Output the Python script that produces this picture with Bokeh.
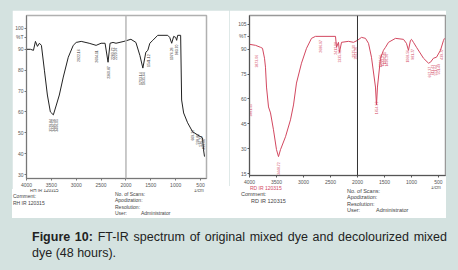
import numpy as np
from bokeh.plotting import figure
from bokeh.models import Range1d, FixedTicker, Span, Div
from bokeh.layouts import column, row
from bokeh.embed import file_html
from bokeh.resources import INLINE
from bokeh.core.properties import value

# ---------------- data ----------------
wn_ticks = [4000, 3500, 3000, 2500, 2000, 1500, 1000, 500]
left_y_ticks = [100, 90, 80, 70, 60, 50, 40, 30]
right_y_ticks = [105, 90, 75, 60, 45, 30, 15]
left_pct_tick = 95.7
right_pct_tick = 97.8

# original mixed dye (black)
orig_wn = [4000, 3920, 3860, 3820, 3780, 3740, 3700, 3640, 3580, 3520, 3460, 3400,
           3340, 3260, 3160, 3060, 3000, 2900, 2740, 2600, 2500, 2420, 2360, 2320,
           2260, 2200, 2040, 1900, 1800, 1720, 1660, 1600, 1560, 1520, 1460, 1360,
           1160, 1120, 1080, 1040, 1000, 980, 960, 900, 880, 840, 760, 660, 560,
           460, 440, 420]
orig_t = [90.0, 90.0, 89.5, 93.8, 91.4, 92.9, 91.9, 80.0, 68.1, 60.0, 58.6, 63.3,
          68.1, 76.7, 86.2, 91.9, 93.3, 93.8, 92.9, 91.9, 92.9, 92.9, 83.8, 92.9,
          93.3, 92.9, 93.8, 94.8, 93.3, 87.1, 81.0, 88.6, 89.5, 92.9, 94.3, 96.7,
          96.7, 95.7, 92.9, 96.2, 95.7, 94.3, 96.7, 96.7, 65.7, 59.5, 54.8, 50.5,
          49.0, 47.6, 41.9, 38.6]

# decolourized mixed dye, 48 h (red)
dec_wn = [4000, 3889, 3796, 3759, 3722, 3704, 3685, 3648, 3611, 3556, 3500, 3463,
          3426, 3333, 3241, 3185, 3130, 3037, 2944, 2852, 2778, 2407, 2389, 2352,
          2333, 2296, 2167, 2074, 2000, 1926, 1852, 1796, 1741, 1667, 1648, 1630,
          1574, 1519, 1481, 1426, 1296, 1148, 1093, 1056, 1019, 1000, 963, 907,
          778, 685, 648, 593, 537, 463, 407, 389]
dec_t = [93.0, 92.4, 91.2, 90.6, 84.6, 79.2, 67.2, 55.2, 51.6, 41.4, 29.4, 25.2,
         29.4, 37.2, 47.4, 56.4, 69.6, 81.6, 90.6, 96.6, 97.8, 97.8, 91.2, 94.2,
         88.2, 94.2, 94.8, 94.2, 95.4, 97.2, 96.6, 93.6, 85.2, 67.2, 56.4, 67.2,
         84.6, 89.4, 91.2, 94.2, 96.6, 96.0, 93.6, 89.4, 95.4, 96.0, 94.2, 91.2,
         84.6, 81.6, 82.2, 84.6, 85.2, 89.4, 95.4, 96.6]

# peak annotations
orig_pk_wn = [3520, 3460, 3400, 2960, 2600, 2360, 2280, 2220, 1700, 1640, 1540,
              1080, 980, 660, 560, 500, 440]
orig_pk_t = [57.6, 57.6, 57.6, 91.0, 90.5, 82.9, 91.9, 91.9, 80.0, 80.0, 88.6,
             91.9, 93.3, 52.4, 50.5, 49.5, 48.0]
orig_pk_lbl = ["3529.84", "3446.56", "3406.05", "2922.16", "2604.11", "2360.87",
               "2283.72", "2220.07", "1703.14", "1635.64", "1541.12", "1076.28",
               "983.70", "669.32", "599.88", "536.21", "459.06"]

dec_pk_wn = [3980, 3865, 3463, 2680, 2413, 2333, 2074, 2043, 1654, 1580, 1537,
             1500, 1457, 1068, 981, 667, 611, 550, 500, 439]
dec_pk_t = [58.0, 87.6, 22.8, 96.6, 95.4, 90.6, 93.6, 92.4, 59.4, 87.6, 88.2,
            89.4, 88.2, 90.6, 91.2, 80.4, 81.6, 81.6, 82.2, 91.2]
dec_pk_lbl = ["3981.55", "3873.06", "3448.72", "2686.97", "2412.08", "2335.92",
              "2075.30", "2043.26", "1654.92", "1583.56", "1537.27", "1506.41",
              "1456.26", "1068.56", "981.77", "667.37", "611.43", "551.64",
              "501.49", "439.77"]

BG = "#d4e2e0"
FONT = "Liberation Sans"
RED = "#d2475f"
GREY = "#444444"

# instrument footer texts: (text, left px, top px, size, colour) inside each footer box
left_meta = [("1/cm", 182, 0, 4.5, "#555555"), ("RH IR 120315", 18, 0, 4.5, GREY),
             ("Comment:", 1, 5, 5, GREY), ("RH IR 120315", 1, 11.5, 5, GREY),
             ("No. of Scans:", 103, 3, 5, GREY), ("Apodization:", 103, 9, 5, GREY),
             ("Resolution:", 103, 16, 5, GREY), ("User:", 103, 22, 5, GREY),
             ("Administrator", 129, 22, 5, GREY)]
right_meta = [("1/cm", 202, 0, 4.5, "#555555"), ("RD IR 120315", 21, 0, 5, RED),
              ("Comment:", 12, 6, 5.5, GREY), ("RD IR 120315", 22, 13, 5.5, GREY),
              ("No. of Scans:", 118, 3, 5.5, GREY), ("Apodization:", 118, 9, 5.5, GREY),
              ("Resolution:", 118, 16, 5.5, GREY), ("User:", 118, 22, 5.5, GREY),
              ("Administrator", 147, 22, 5.5, GREY)]


def footer(items, h):
    spans = "".join(
        f'<span style="position:absolute;left:{x}px;top:{y}px;color:{c};'
        f'font-size:{s}px;white-space:nowrap;line-height:{s}px">{t}</span>'
        for t, x, y, s, c in items)
    html = (f'<div style="position:relative;width:217px;height:{h}px;overflow:hidden;'
            f'font-family:\'{FONT}\',Arial,sans-serif">{spans}</div>')
    return Div(text=html, width=217, height=h, margin=(0, 0, 0, 0),
               styles={"background-color": "white"})


def make_panel(height, bl, br, bt, bb, xr, yr, yticks, pct, axis_col, outline_col,
               center_col, center_w):
    p = figure(width=217, height=height, output_backend="svg", toolbar_location=None,
               x_range=Range1d(*xr), y_range=Range1d(*yr),
               min_border_left=bl, min_border_right=br, min_border_top=bt,
               min_border_bottom=bb, margin=(0, 0, 0, 0))
    p.background_fill_color = "white"
    p.border_fill_color = "white"
    p.outline_line_color = outline_col
    p.outline_line_width = 1.5
    p.grid.visible = False
    for ax in (p.xaxis[0], p.yaxis[0]):
        ax.axis_line_color = axis_col
        ax.major_tick_line_color = axis_col
        ax.minor_tick_line_color = None
        ax.major_tick_out = 2
        ax.major_tick_in = 0
        ax.major_label_text_font_size = "5px"
        ax.major_label_text_color = "#555555"
        ax.major_label_text_font = FONT
        ax.major_label_standoff = 2
    p.xaxis.ticker = FixedTicker(ticks=wn_ticks)
    p.yaxis.ticker = FixedTicker(ticks=sorted(yticks + [pct]))
    p.yaxis.major_label_overrides = {pct: "%T"}
    p.yaxis.major_label_standoff = 1
    p.add_layout(Span(location=2000, dimension="height", line_color=center_col,
                      line_width=center_w))
    return p


# ---------------- left panel ----------------
pl = make_panel(179, 13, 23, 5, 10, (4000, 380), (28.1, 106.2), left_y_ticks,
                left_pct_tick, "#777777", "#b0b0b0", "#b8b8b8", 1.5)
pl.line(orig_wn, orig_t, line_color="#222222", line_width=1)
pl.text(x=orig_pk_wn, y=[t - 1.0 for t in orig_pk_t], text=orig_pk_lbl,
        angle=np.pi / 2, text_align="right", text_baseline="middle",
        text_font_size="3.5px", text_color="#333333", text_font=value(FONT))
left_block = column(pl, footer(left_meta, 29), margin=(0, 0, 0, 0))

# ---------------- right panel ----------------
pr = make_panel(176, 20, 1, 5, 10, (4000, 370), (13.8, 110.4), right_y_ticks,
                right_pct_tick, "#555555", "#999999", "#333333", 1)
pr.line(dec_wn, dec_t, line_color=RED, line_width=1)
pr.text(x=dec_pk_wn, y=[t - 1.0 for t in dec_pk_t], text=dec_pk_lbl,
        angle=np.pi / 2, text_align="right", text_baseline="middle",
        text_font_size="3.5px", text_color=RED, text_font=value(FONT))
right_block = column(pr, footer(right_meta, 32), margin=(0, 0, 0, 0))

# ---------------- caption ----------------
caption = Div(
    text='<div style="width:415px;text-align:justify;text-align-last:justify;">'
         '<b>Figure 10:</b> FT-IR spectrum of original mixed dye and decolourized '
         'mixed</div><div style="width:415px;">dye (48 hours).</div>',
    width=415, height=32, margin=(11, 11, 0, 32),
    styles={"font-family": "'Liberation Sans', Arial, sans-serif", "font-size": "12.5px",
            "line-height": "16px", "color": "#222222"})

charts = row(left_block, right_block, margin=(10, 12, 0, 12))
root = column(charts, caption, width=458, height=270,
              styles={"background-color": BG})

open("out.html", "w").write(file_html(root, INLINE))
